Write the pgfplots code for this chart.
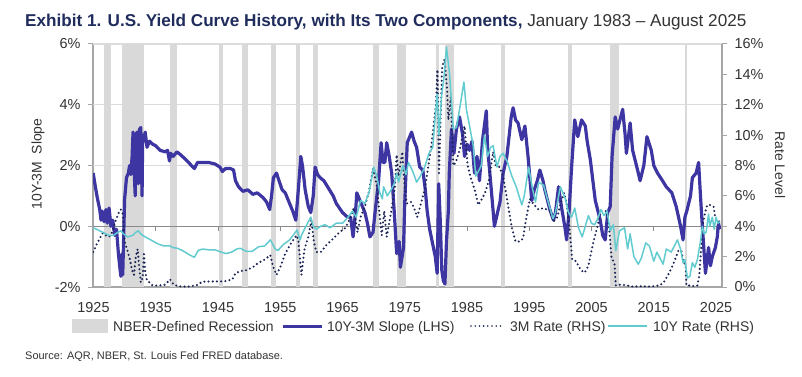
\documentclass[border=0pt]{standalone}
\usepackage{pgfplots}
\pgfplotsset{compat=1.18}
\usepackage{fontspec}
\setmainfont{Liberation Sans}
\definecolor{slopecol}{HTML}{3D35A1}
\definecolor{billcol}{HTML}{1B2456}
\definecolor{tencol}{HTML}{62CBCF}
\definecolor{recgray}{HTML}{D9D9D9}
\definecolor{gridgray}{HTML}{DCDCDC}
\definecolor{axisgray}{HTML}{A6A6A6}
\definecolor{zerogray}{HTML}{8A8A8A}
\definecolor{titlenavy}{HTML}{1F2C5C}
\definecolor{textgray}{HTML}{333333}
\begin{document}
\begin{tikzpicture}[x=1bp,y=1bp]
\path[use as bounding box] (0,0) rectangle (802,376);
\pgfplotsset{
  common/.style={
    at={(93bp,89bp)}, anchor=south west, scale only axis,
    width=629bp, height=243bp,
    xmin=1924.92, xmax=2025.96,
    tick label style={font=\fontsize{14.5}{16}\selectfont, text=textgray},
    axis line style={draw=axisgray, line width=1.3bp},
    tick style={draw=axisgray, line width=1bp},
    major tick length=5bp,
    tick align=outside,
    clip=true,
  }
}
\begin{axis}[common,
  ymin=-2, ymax=6,
  axis y line*=left, axis x line*=bottom,
  ytick={-2,0,2,4,6}, yticklabels={-2\%,0\%,2\%,4\%,6\%},
  xtick={1925,1935,...,2025},
  xticklabels={1925,1935,1945,1955,1965,1975,1985,1995,2005,2015,2025},
  x tick style={draw=none},
  xticklabel style={yshift=-7bp},
  yticklabel style={xshift=-4bp},
]
% light grid
\draw[gridgray, line width=1bp] (axis cs:1924.92,2) -- (axis cs:2025.96,2);
\draw[gridgray, line width=1bp] (axis cs:1924.92,4) -- (axis cs:2025.96,4);
\draw[gridgray, line width=1.2bp] (axis cs:1924.92,6) -- (axis cs:2025.96,6);
% NBER recessions
\addplot[fill=recgray, draw=none] coordinates {(1926.75,-2)(1926.75,6)(1927.83,6)(1927.83,-2)} -- cycle;
\addplot[fill=recgray, draw=none] coordinates {(1929.58,-2)(1929.58,6)(1933.17,6)(1933.17,-2)} -- cycle;
\addplot[fill=recgray, draw=none] coordinates {(1937.33,-2)(1937.33,6)(1938.42,6)(1938.42,-2)} -- cycle;
\addplot[fill=recgray, draw=none] coordinates {(1945.08,-2)(1945.08,6)(1945.75,6)(1945.75,-2)} -- cycle;
\addplot[fill=recgray, draw=none] coordinates {(1948.83,-2)(1948.83,6)(1949.75,6)(1949.75,-2)} -- cycle;
\addplot[fill=recgray, draw=none] coordinates {(1953.50,-2)(1953.50,6)(1954.33,6)(1954.33,-2)} -- cycle;
\addplot[fill=recgray, draw=none] coordinates {(1957.58,-2)(1957.58,6)(1958.25,6)(1958.25,-2)} -- cycle;
\addplot[fill=recgray, draw=none] coordinates {(1960.25,-2)(1960.25,6)(1961.08,6)(1961.08,-2)} -- cycle;
\addplot[fill=recgray, draw=none] coordinates {(1969.92,-2)(1969.92,6)(1970.83,6)(1970.83,-2)} -- cycle;
\addplot[fill=recgray, draw=none] coordinates {(1973.83,-2)(1973.83,6)(1975.17,6)(1975.17,-2)} -- cycle;
\addplot[fill=recgray, draw=none] coordinates {(1980.00,-2)(1980.00,6)(1980.50,6)(1980.50,-2)} -- cycle;
\addplot[fill=recgray, draw=none] coordinates {(1981.50,-2)(1981.50,6)(1982.83,6)(1982.83,-2)} -- cycle;
\addplot[fill=recgray, draw=none] coordinates {(1990.50,-2)(1990.50,6)(1991.17,6)(1991.17,-2)} -- cycle;
\addplot[fill=recgray, draw=none] coordinates {(2001.17,-2)(2001.17,6)(2001.83,6)(2001.83,-2)} -- cycle;
\addplot[fill=recgray, draw=none] coordinates {(2007.92,-2)(2007.92,6)(2009.42,6)(2009.42,-2)} -- cycle;
\addplot[fill=recgray, draw=none] coordinates {(2020.00,-2)(2020.00,6)(2020.33,6)(2020.33,-2)} -- cycle;
% zero line with ticks
\draw[zerogray, line width=1bp] (axis cs:1924.92,0) -- (axis cs:2025.96,0);
\pgfplotsinvokeforeach{1935,1945,1955,1965,1975,1985,1995,2005,2015,2025}{
  \draw[zerogray, line width=0.9bp] (axis cs:#1,0) -- ++(0bp,-5bp);}
% slope
\addplot[slopecol, line width=3.2bp, line join=round] coordinates {
(1924.95,1.75)(1925.3,1.3)(1925.6,0.95)(1926.0,0.55)(1926.2,0.2)(1926.4,0.5)(1926.7,0.15)(1927.0,0.55)(1927.2,0.1)(1927.5,0.6)(1927.8,0.0)(1928.1,0.2)(1928.4,-0.3)(1928.7,-0.1)(1929.0,-0.9)(1929.2,-1.3)(1929.4,-1.65)(1929.6,-0.9)(1929.7,-1.6)(1929.85,-0.3)(1930.0,0.9)(1930.3,1.6)(1930.6,1.75)(1930.8,2.0)(1931.0,1.7)(1931.2,2.3)(1931.35,3.1)(1931.5,2.0)(1931.7,1.0)(1931.8,3.0)(1932.0,3.1)(1932.2,1.4)(1932.4,3.2)(1932.6,3.25)(1932.8,1.0)(1932.9,3.0)(1933.1,2.8)(1933.3,3.1)(1933.6,2.6)(1934.0,2.8)(1934.5,2.7)(1935.0,2.65)(1935.7,2.5)(1936.5,2.45)(1936.9,2.5)(1937.2,2.15)(1937.4,2.4)(1937.8,2.3)(1938.4,2.45)(1939.0,2.35)(1939.8,2.2)(1940.5,2.05)(1941.2,1.9)(1941.7,2.1)(1942.5,2.1)(1943.5,2.1)(1944.5,2.05)(1945.3,1.95)(1945.7,1.8)(1946.2,1.9)(1947.0,1.9)(1947.5,1.85)(1947.8,1.5)(1948.3,1.3)(1949.0,1.15)(1949.8,1.2)(1950.6,1.05)(1951.3,1.1)(1952.2,0.95)(1952.8,0.8)(1953.3,0.55)(1953.6,1.0)(1953.9,1.6)(1954.4,1.75)(1954.8,1.5)(1955.3,1.2)(1955.8,1.1)(1956.5,0.75)(1957.0,0.5)(1957.5,0.2)(1957.9,1.2)(1958.3,2.3)(1958.6,1.95)(1959.0,1.2)(1959.5,0.65)(1959.9,0.45)(1960.3,1.0)(1960.6,1.95)(1961.0,1.7)(1961.4,1.6)(1962.0,1.5)(1962.9,1.2)(1963.5,1.0)(1964.0,0.75)(1965.0,0.45)(1965.8,0.3)(1966.3,0.3)(1966.7,-0.35)(1967.1,0.5)(1967.3,1.1)(1967.8,0.85)(1968.6,0.45)(1969.0,0.1)(1969.4,-0.35)(1969.9,-0.2)(1970.3,0.6)(1970.8,1.5)(1971.2,2.75)(1971.5,2.1)(1971.8,2.1)(1972.1,2.75)(1972.5,2.3)(1972.9,1.75)(1973.3,0.5)(1973.7,-0.9)(1974.1,-0.5)(1974.3,-1.35)(1974.8,-0.7)(1975.0,0.8)(1975.4,2.75)(1976.1,3.1)(1976.5,2.8)(1976.9,2.6)(1977.4,1.95)(1977.9,1.85)(1978.3,1.2)(1978.6,0.5)(1979.0,-0.1)(1979.5,-0.6)(1979.9,-1.0)(1980.2,-1.55)(1980.45,1.4)(1980.7,0.2)(1980.95,-1.45)(1981.2,-1.8)(1981.45,-1.9)(1981.7,-0.5)(1982.0,0.5)(1982.15,1.75)(1982.5,3.2)(1982.9,2.4)(1983.3,3.2)(1983.8,3.6)(1984.3,3.0)(1984.6,2.3)(1985.0,2.7)(1985.4,2.5)(1985.8,2.8)(1986.2,1.75)(1986.6,2.3)(1987.0,1.5)(1987.5,2.85)(1988.1,3.8)(1988.3,2.6)(1988.9,1.2)(1989.4,0.0)(1989.9,0.45)(1990.3,0.8)(1990.8,1.75)(1991.4,2.3)(1992.1,3.6)(1992.4,3.9)(1992.8,3.5)(1993.2,3.4)(1993.8,2.85)(1994.3,3.3)(1994.8,2.3)(1995.4,0.85)(1995.8,1.2)(1996.3,1.5)(1996.7,1.85)(1997.2,1.5)(1997.5,1.2)(1998.3,0.55)(1998.9,0.2)(1999.2,0.45)(1999.7,1.3)(2000.2,0.6)(2000.7,0.0)(2001.0,-0.45)(2001.4,0.5)(2001.8,1.95)(2002.3,3.5)(2002.8,2.95)(2003.4,3.5)(2004.0,3.3)(2004.3,2.8)(2004.8,2.2)(2005.6,0.85)(2006.4,0.2)(2006.8,-0.3)(2007.2,-0.45)(2007.6,0.45)(2008.0,0.65)(2008.3,2.3)(2008.8,3.6)(2009.2,3.2)(2010.0,3.85)(2010.4,3.0)(2010.6,2.4)(2011.2,3.4)(2011.6,2.5)(2012.4,1.85)(2012.8,1.5)(2013.4,2.0)(2013.9,2.95)(2014.6,2.5)(2015.0,2.0)(2015.6,1.75)(2016.4,1.5)(2017.0,1.3)(2017.9,1.1)(2018.6,0.65)(2019.3,0.0)(2019.7,-0.45)(2020.0,0.3)(2020.3,0.5)(2020.9,1.0)(2021.2,1.6)(2021.8,1.75)(2022.2,2.1)(2022.5,1.0)(2022.8,0.0)(2023.0,-0.6)(2023.3,-1.55)(2023.8,-0.7)(2024.1,-1.3)(2024.4,-1.0)(2024.9,-0.7)(2025.2,-0.35)(2025.4,0.1)(2025.6,-0.1)
};
\end{axis}
\begin{axis}[common,
  ymin=0, ymax=16,
  axis y line*=right, axis x line=none,
  ytick={0,2,...,16},
  yticklabels={0\%,2\%,4\%,6\%,8\%,10\%,12\%,14\%,16\%},
  yticklabel style={xshift=4bp},
]
% 3M rate
\addplot[billcol, line width=2.3bp, line cap=round, dash pattern=on 0bp off 4.2bp] coordinates {
(1924.95,2.3)(1925.5,2.8)(1926.0,3.2)(1926.5,3.55)(1927.0,3.4)(1927.5,3.3)(1928.0,3.6)(1928.5,4.3)(1929.0,4.85)(1929.4,5.1)(1929.7,4.8)(1930.0,3.0)(1930.3,2.6)(1930.8,1.9)(1931.2,1.1)(1931.5,0.8)(1931.8,2.0)(1932.1,2.5)(1932.3,1.5)(1932.6,0.3)(1932.9,0.6)(1933.1,2.3)(1933.3,1.0)(1933.6,0.4)(1934.0,0.3)(1934.5,0.1)(1935.5,0.1)(1936.5,0.15)(1937.3,0.5)(1937.8,0.2)(1938.5,0.05)(1940,0.02)(1941.5,0.1)(1942.5,0.35)(1944,0.37)(1946,0.37)(1947.3,0.5)(1947.8,0.9)(1948.6,1.05)(1949.5,1.1)(1950.6,1.3)(1951.5,1.6)(1952.5,1.8)(1953.4,2.1)(1953.8,1.4)(1954.4,0.8)(1955.0,1.3)(1955.8,2.2)(1956.6,2.8)(1957.6,3.4)(1957.9,3.1)(1958.4,0.8)(1958.9,2.5)(1959.5,3.3)(1960.0,4.4)(1960.4,3.0)(1960.8,2.3)(1961.5,2.3)(1962.5,2.8)(1963.3,3.1)(1964.5,3.6)(1965.5,3.9)(1966.3,4.6)(1966.8,5.2)(1967.4,3.6)(1967.9,4.6)(1968.6,5.3)(1969.2,6.2)(1969.9,7.8)(1970.5,6.7)(1971.0,4.6)(1971.3,3.4)(1971.7,5.0)(1972.1,3.3)(1972.8,4.9)(1973.4,6.5)(1973.7,8.7)(1974.0,7.3)(1974.6,8.9)(1975.0,6.5)(1975.3,5.5)(1976.0,5.6)(1976.5,5.2)(1977.0,4.6)(1977.6,5.5)(1978.2,6.4)(1978.8,8.0)(1979.3,9.4)(1980.0,12.0)(1980.25,14.3)(1980.5,7.5)(1980.75,11.0)(1981.0,14.5)(1981.4,15.0)(1981.8,13.0)(1982.0,11.0)(1982.4,12.5)(1982.8,8.0)(1983.2,8.2)(1983.8,9.0)(1984.6,10.6)(1985.1,8.0)(1985.6,7.2)(1986.3,6.3)(1986.8,5.4)(1987.4,5.8)(1987.9,6.2)(1988.5,7.0)(1989.2,8.9)(1989.6,8.0)(1990.2,7.9)(1990.8,7.3)(1991.5,5.6)(1992.2,3.9)(1992.8,3.0)(1993.5,3.0)(1994.0,3.2)(1994.5,4.5)(1995.1,5.8)(1995.8,5.4)(1996.5,5.1)(1997.3,5.2)(1998.3,5.0)(1998.9,4.3)(1999.5,4.6)(2000.1,5.6)(2000.6,6.2)(2001.0,5.5)(2001.5,3.7)(2001.9,1.8)(2002.5,1.7)(2003.3,1.1)(2003.9,0.95)(2004.5,1.4)(2005.2,2.8)(2005.9,3.9)(2006.5,5.0)(2007.3,5.0)(2007.8,4.0)(2008.2,2.0)(2008.7,1.5)(2008.9,0.1)(2009.5,0.15)(2010.5,0.12)(2011.5,0.03)(2013,0.05)(2014.5,0.03)(2015.9,0.1)(2016.6,0.3)(2017.3,0.8)(2017.9,1.3)(2018.5,1.9)(2018.95,2.4)(2019.4,2.4)(2019.8,1.6)(2020.1,1.5)(2020.25,0.1)(2020.8,0.1)(2021.5,0.05)(2022.0,0.1)(2022.3,0.7)(2022.6,2.5)(2022.9,4.2)(2023.3,5.0)(2023.6,5.4)(2024.0,5.4)(2024.6,5.3)(2024.9,4.5)(2025.2,4.35)(2025.6,4.3)
};
% 10Y rate
\addplot[tencol, line width=1.5bp, line join=round] coordinates {
(1924.95,3.9)(1925.5,3.8)(1926.5,3.6)(1927.5,3.4)(1928.2,3.4)(1928.9,3.6)(1929.4,3.7)(1929.8,3.5)(1930.5,3.3)(1931.3,3.4)(1931.8,3.6)(1932.2,3.7)(1932.7,3.45)(1933.3,3.3)(1934.2,3.1)(1935.3,2.85)(1936.3,2.7)(1937.3,2.7)(1937.7,2.6)(1938.5,2.55)(1939.5,2.35)(1940.5,2.1)(1941.2,1.95)(1941.8,2.4)(1942.5,2.5)(1943.5,2.45)(1944.5,2.45)(1945.5,2.3)(1946.3,2.2)(1947.2,2.3)(1948.0,2.5)(1948.6,2.55)(1949.5,2.35)(1950.5,2.35)(1951.5,2.65)(1952.5,2.7)(1953.4,3.1)(1954.2,2.5)(1954.6,2.4)(1955.5,2.8)(1956.5,3.1)(1957.7,3.75)(1958.2,3.1)(1958.4,3.4)(1959.0,3.9)(1959.9,4.6)(1960.3,4.0)(1960.8,3.8)(1961.5,4.0)(1962.2,4.1)(1963.0,3.9)(1964.0,4.2)(1965.0,4.2)(1965.9,4.6)(1966.6,5.0)(1967.2,4.6)(1967.9,5.7)(1968.6,5.5)(1969.3,6.3)(1970.0,7.9)(1970.5,7.3)(1971.0,6.2)(1971.4,5.8)(1971.6,6.6)(1972.2,6.0)(1972.8,6.4)(1973.3,6.8)(1973.7,7.5)(1974.0,6.9)(1974.7,8.0)(1975.2,7.4)(1975.6,8.2)(1976.3,7.6)(1976.9,6.9)(1977.5,7.3)(1978.1,7.8)(1978.9,8.8)(1979.5,9.2)(1980.2,12.7)(1980.5,10.0)(1980.9,12.5)(1981.3,13.8)(1981.7,15.8)(1982.2,14.0)(1982.8,10.4)(1983.3,10.5)(1983.8,11.7)(1984.5,13.5)(1984.9,11.7)(1985.5,10.4)(1986.0,9.3)(1986.4,7.3)(1986.8,7.6)(1987.3,8.0)(1987.8,10.0)(1988.3,8.6)(1988.8,9.2)(1989.2,9.3)(1989.8,7.9)(1990.3,8.6)(1990.8,8.8)(1991.5,8.2)(1992.2,7.3)(1992.9,6.6)(1993.8,5.4)(1994.2,6.0)(1994.9,7.9)(1995.5,6.5)(1996.0,5.6)(1996.5,6.9)(1997.3,6.7)(1997.9,5.8)(1998.8,4.5)(1999.2,4.9)(2000.0,6.6)(2000.8,5.8)(2001.3,4.9)(2001.8,4.6)(2002.3,5.2)(2002.9,3.9)(2003.5,3.3)(2004.0,4.0)(2004.5,4.7)(2005.0,4.2)(2005.5,4.1)(2006.0,4.5)(2006.5,5.1)(2007.0,4.7)(2007.5,5.0)(2008.0,3.7)(2008.5,4.1)(2008.9,2.4)(2009.5,3.7)(2010.3,3.9)(2010.8,2.5)(2011.2,3.5)(2011.8,2.0)(2012.5,1.5)(2013.0,1.9)(2013.7,2.9)(2014.3,2.7)(2015.0,1.7)(2015.5,2.3)(2016.5,1.5)(2017.0,2.5)(2017.8,2.3)(2018.8,3.1)(2019.3,2.5)(2019.7,1.6)(2020.0,1.8)(2020.4,0.6)(2020.8,0.7)(2021.2,1.6)(2021.6,1.3)(2022.0,1.8)(2022.5,3.0)(2022.8,4.0)(2023.1,3.5)(2023.4,3.6)(2023.8,4.8)(2024.0,4.0)(2024.4,4.6)(2024.7,3.8)(2025.0,4.6)(2025.3,4.2)(2025.6,4.3)
};
\end{axis}
% axis titles
\node[rotate=90, font=\fontsize{14}{16}\selectfont, text=textgray] at (38,212) {10Y-3M\ \ Slope};
\node[rotate=-90, font=\fontsize{14}{16}\selectfont, text=textgray] at (780,211) {Rate Level};
% title
\node[anchor=base west, inner sep=0pt, font=\fontsize{17.2}{20}\selectfont] at (25,350)
  {\textcolor{titlenavy}{\bfseries Exhibit 1. U.S. Yield Curve History, with Its Two Components,} \textcolor{textgray}{January 1983 – August 2025}};
% legend
\begin{scope}[font=\fontsize{14}{16}\selectfont]
\fill[recgray] (72,43) rectangle (108,57);
\node[anchor=base west, inner sep=0pt, text=textgray] at (113,45) {NBER-Defined Recession};
\draw[slopecol, line width=3bp] (283,50) -- (322,50);
\node[anchor=base west, inner sep=0pt, text=textgray] at (327,45) {10Y-3M Slope (LHS)};
\draw[billcol, line width=1.8bp, line cap=round, dash pattern=on 0bp off 4.2bp] (471,50) -- (503,50);
\node[anchor=base west, inner sep=0pt, text=textgray] at (510,45) {3M Rate (RHS)};
\draw[tencol, line width=1.5bp] (608,50) -- (647,50);
\node[anchor=base west, inner sep=0pt, text=textgray] at (653,45) {10Y Rate (RHS)};
\end{scope}
% source
\node[anchor=base west, inner sep=0pt, text=textgray, font=\fontsize{11}{12}\selectfont] at (25,17) {Source: AQR, NBER, St. Louis Fed FRED database.};
\end{tikzpicture}
\end{document}
